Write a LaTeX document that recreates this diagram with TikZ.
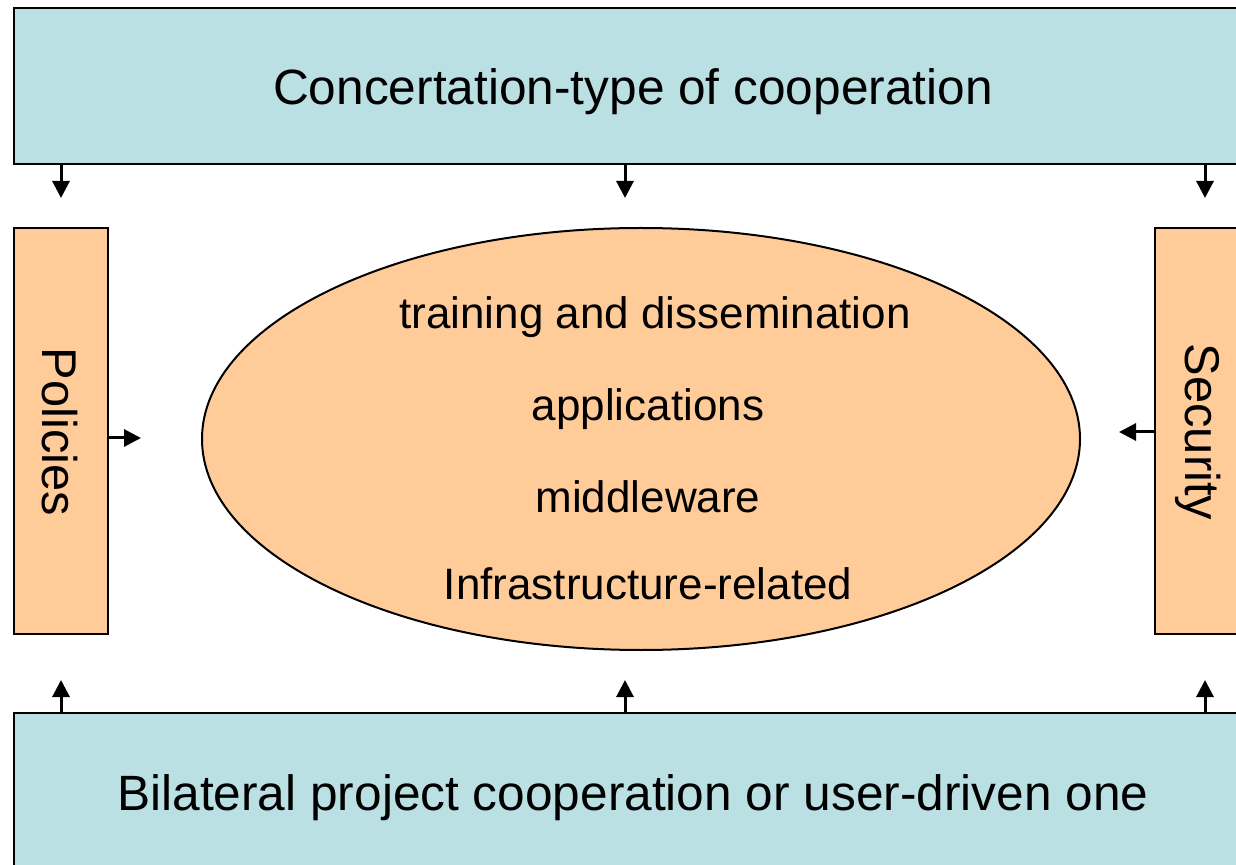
\documentclass[tikz,border=0pt]{standalone}
\usepackage{fontspec}
\setmainfont{Liberation Sans}
\usetikzlibrary{arrows.meta, shapes.geometric}
\definecolor{coopblue}{HTML}{BBE0E3}
\definecolor{layerorange}{HTML}{FFCC99}

\begin{document}
\begin{tikzpicture}[x=0.5pt, y=-0.5pt]
\tikzstyle{coopbox} = [draw, line width = 1pt, fill = coopblue, minimum width = 619pt, minimum height = 78pt, inner sep = 0pt]
\tikzstyle{sidebox} = [draw, line width = 1pt, fill = layerorange, minimum width = 47pt, minimum height = 203pt, inner sep = 0pt]
\tikzstyle{bigtext} = [font = \fontsize{24.8}{30}\selectfont, inner sep = 0pt]
\tikzstyle{sidetext} = [rotate = -90, font = \fontsize{24.4}{30}\selectfont, inner sep = 0pt]
\tikzstyle{layer} = [font = \fontsize{22}{26}\selectfont, inner sep = 0pt]
\tikzset{flow/.style={line width = 1.5pt, -{Triangle[width = 8.5pt, length = 8.5pt]}}}
\useasboundingbox (0,0) rectangle (1236,865);
\clip (0,0) rectangle (1236,865);

\node [coopbox] (concert) at (633,86) {};
\node [bigtext] (concerttext) at (633,92) {Concertation-type of cooperation};
\node [coopbox] (bilateral) at (633,791) {};
\node [bigtext] (bilateraltext) at (633,798) {Bilateral project cooperation or user-driven one};
\node [sidebox] (policies) at (61,431) {};
\node [sidebox] (security) at (1202,431) {};
\node [sidetext] (policiestext) at (60,432) {Policies};
\node [sidetext] (securitytext) at (1198,432) {Security};
\node [draw, ellipse, line width = 1pt, fill = layerorange, minimum width = 439pt, minimum height = 211pt, inner sep = 0pt] (grid) at (641,439) {};

\node [layer] (training) at (655,317) {training and dissemination};
\node [layer] (apps) at (648,409) {applications};
\node [layer] (middle) at (648,497) {middleware};
\node [layer] (infra) at (648,584) {Infrastructure-related};

% arrow ends
\coordinate (t1) at (61,198);
\coordinate (t2) at (625,198);
\coordinate (t3) at (1205,198);
\coordinate (b1) at (61,680);
\coordinate (b2) at (625,680);
\coordinate (b3) at (1205,680);
\coordinate (pl) at (141,438);
\coordinate (sr) at (1119,432);

\draw [flow] (concert.south -| t1) -- (t1);
\draw [flow] (concert.south -| t2) -- (t2);
\draw [flow] (concert.south -| t3) -- (t3);
\draw [flow] (bilateral.north -| b1) -- (b1);
\draw [flow] (bilateral.north -| b2) -- (b2);
\draw [flow] (bilateral.north -| b3) -- (b3);
\draw [flow] (policies.east |- pl) -- (pl);
\draw [flow] (security.west |- sr) -- (sr);

\end{tikzpicture}
\end{document}
